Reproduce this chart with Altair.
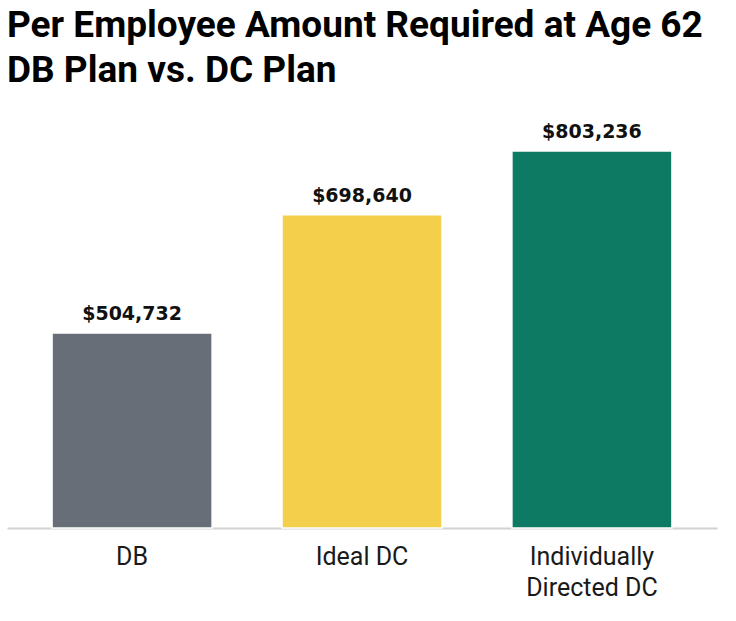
import altair as alt
import pandas as pd

categories = ["DB", "Ideal DC", "Individually Directed DC"]
values = [504732, 698640, 803236]
labels = ["$504,732", "$698,640", "$803,236"]
colors = ["#676e77", "#f3cf4c", "#0d7a63"]
title_lines = ["Per Employee Amount Required at Age 62", "DB Plan vs. DC Plan"]

df = pd.DataFrame({"plan": categories, "amount": values, "label": labels})

BASE = 185000

x = alt.X(
    "plan:N",
    sort=categories,
    title=None,
    scale=alt.Scale(paddingInner=0.304, paddingOuter=0.196),
    axis=alt.Axis(
        labelAngle=0,
        ticks=False,
        grid=False,
        domainColor="#d2d2d2",
        domainWidth=2,
        labelFont="Roboto",
        labelFontSize=25,
        labelColor="#1a1a1a",
        labelPadding=16,
        labelLineHeight=31,
        labelExpr="datum.label == 'Individually Directed DC' ? ['Individually', 'Directed DC'] : datum.label",
    ),
)
y = alt.Y(
    "amount:Q",
    axis=None,
    scale=alt.Scale(domain=[BASE, 869000], zero=False),
)

bars = alt.Chart(df).mark_bar(stroke="white", strokeWidth=1.5).encode(
    x=x,
    y=y,
    y2=alt.datum(BASE),
    color=alt.Color("plan:N", scale=alt.Scale(domain=categories, range=colors), legend=None),
)

text = alt.Chart(df).mark_text(
    baseline="alphabetic", dy=-13, font="DejaVu Sans", fontWeight="bold", fontSize=19, color="#111111"
).encode(x=x, y=y, text="label:N")

chart = (
    alt.layer(bars, text)
    .properties(
        width=710,
        height=417,
        view=alt.ViewBackground(stroke="transparent", strokeWidth=0),
        title=alt.TitleParams(
            title_lines,
            anchor="start",
            font="Roboto",
            fontSize=37,
            fontWeight="bold",
            color="#000000",
            lineHeight=45,
            offset=21,
        ),
        padding={"left": 7, "top": 7, "right": 10, "bottom": 5},
    )
    .configure_view(stroke="transparent", strokeWidth=0)
    .configure_axis(grid=False)
    .configure(background="white")
)

chart.save("out.html", embed_options={"renderer": "svg", "actions": False})
